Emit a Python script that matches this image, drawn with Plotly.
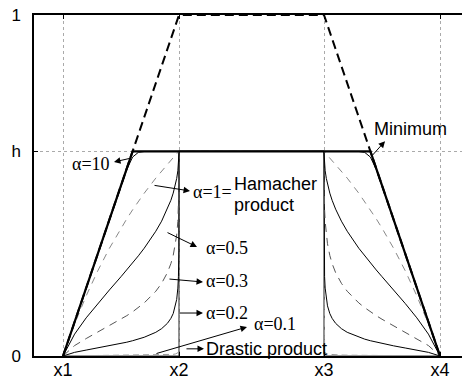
import plotly.graph_objects as go

# ---------------- data ----------------
X_LABELS = ["x1", "x2", "x3", "x4"]
X_POS = [1.0, 3.0, 5.5, 7.5]
Y_TICKS = [0, 0.6, 1]
Y_LABELS = ["0", "h", "1"]

# membership grade of the trapezoid A along its rising / falling edge
A_GRADE = [0, 0.1, 0.2, 0.3, 0.4, 0.5, 0.55, 0.6, 0.65, 0.7, 0.8, 0.85, 0.9,
           0.93, 0.95, 0.97, 0.98, 0.99, 0.995, 0.999, 0.9999, 1.0]
TRAP_A = [0, 1, 1, 0]

MINIMUM = [0, 0.1, 0.2, 0.3, 0.4, 0.5, 0.55, 0.6, 0.6, 0.6, 0.6, 0.6, 0.6,
           0.6, 0.6, 0.6, 0.6, 0.6, 0.6, 0.6, 0.6, 0.6]
ALPHA_10 = [0, 0.1, 0.2, 0.3, 0.4, 0.4996, 0.547, 0.5833, 0.5973, 0.5997, 0.6, 0.6, 0.6,
            0.6, 0.6, 0.6, 0.6, 0.6, 0.6, 0.6, 0.6, 0.6]
ALPHA_1 = [0, 0.0938, 0.1765, 0.25, 0.3158, 0.375, 0.4024, 0.4286, 0.4535, 0.4773, 0.5217,
           0.5426, 0.5625, 0.5741, 0.5816, 0.5891, 0.5927, 0.5964, 0.5982, 0.5996, 0.6, 0.6]
ALPHA_05 = [0, 0.0642, 0.1119, 0.154, 0.1936, 0.2326, 0.2524, 0.2727, 0.2938, 0.316, 0.3659,
            0.3954, 0.4307, 0.4566, 0.4776, 0.5038, 0.5207, 0.5432, 0.5595, 0.5816, 0.5941, 0.6]
ALPHA_03 = [0, 0.0306, 0.0512, 0.0698, 0.0883, 0.1078, 0.1183, 0.1295, 0.1419, 0.1556, 0.1899,
            0.2131, 0.2445, 0.271, 0.2949, 0.3292, 0.3547, 0.3943, 0.4289, 0.4905, 0.5439, 0.6]
ALPHA_02 = [0, 0.0107, 0.0174, 0.0235, 0.0298, 0.0367, 0.0405, 0.0448, 0.0495, 0.055, 0.0695,
            0.0802, 0.0958, 0.1103, 0.1245, 0.1471, 0.1659, 0.1991, 0.233, 0.3101, 0.4043, 0.6]
ALPHA_01 = [0, 0.0004, 0.0006, 0.0008, 0.001, 0.0012, 0.0013, 0.0015, 0.0016, 0.0018, 0.0024,
            0.0028, 0.0034, 0.0041, 0.0048, 0.006, 0.0071, 0.0095, 0.0124, 0.022, 0.0447, 0.6]
DRASTIC = [0, 0, 0, 0, 0, 0, 0, 0, 0, 0, 0, 0, 0, 0, 0, 0, 0, 0, 0, 0, 0, 0.6]

x1, x2, x3, x4 = X_POS
left_x = [x1 + g * (x2 - x1) for g in A_GRADE]
right_x = [x4 - g * (x4 - x3) for g in A_GRADE]


def full_curve(vals):
    return left_x + right_x[::-1], list(vals) + list(vals)[::-1]


fig = go.Figure()

styles = [
    (DRASTIC, dict(color="#333333", width=1.1)),
    (ALPHA_01, dict(color="#999999", width=1, dash="6px,4px")),
    (ALPHA_02, dict(color="black", width=1)),
    (ALPHA_03, dict(color="#555555", width=1, dash="8px,6px")),
    (ALPHA_05, dict(color="black", width=1)),
    (ALPHA_1, dict(color="#888888", width=1, dash="7px,6px")),
    (ALPHA_10, dict(color="black", width=1)),
    (MINIMUM, dict(color="black", width=2.2)),
]
for vals, ln in styles:
    xs, ys = full_curve(vals)
    fig.add_trace(go.Scatter(x=xs, y=ys, mode="lines", line=ln, hoverinfo="skip"))

fig.add_trace(go.Scatter(x=X_POS, y=TRAP_A, mode="lines",
                         line=dict(color="black", width=2, dash="9px,5px"), hoverinfo="skip"))

SERIF = "Liberation Serif, Times New Roman, serif"
SANS = "Liberation Sans, Arial, Helvetica, sans-serif"

LABELS = [
    ("Minimum", 6.345, 0.666, "left", SANS),
    ("α=10", 1.828, 0.563, "right", SERIF),
    ("α=1=", 3.224, 0.481, "left", SERIF),
    ("Hamacher", 3.931, 0.504, "left", SANS),
    ("product", 3.931, 0.443, "left", SANS),
    ("α=0.5", 3.448, 0.317, "left", SERIF),
    ("α=0.3", 3.448, 0.220, "left", SERIF),
    ("α=0.2", 3.448, 0.126, "left", SERIF),
    ("α=0.1", 4.276, 0.094, "left", SERIF),
    ("Drastic product", 3.448, 0.021, "left", SANS),
]
# (tail x, tail y, head x, head y)
ARROWS = [
    (6.310, 0.584, 6.552, 0.630),
    (2.190, 0.581, 1.879, 0.569),
    (2.552, 0.501, 3.190, 0.484),
    (2.776, 0.364, 3.310, 0.320),
    (2.810, 0.226, 3.414, 0.217),
    (2.983, 0.126, 3.414, 0.126),
    (2.586, 0.006, 4.172, 0.085),
    (3.103, 0.021, 3.431, 0.021),
]

annotations = []
for text, x, y, anc, fam in LABELS:
    annotations.append(dict(text=text, x=x, y=y, xref="x", yref="y", xanchor=anc,
                            yanchor="middle", showarrow=False,
                            font=dict(family=fam, size=18, color="black"),
                            borderpad=0))
for tx, ty, hx, hy in ARROWS:
    annotations.append(dict(text="", x=hx, y=hy, ax=tx, ay=ty, xref="x", yref="y",
                            axref="x", ayref="y", showarrow=True, arrowhead=2,
                            arrowsize=1.3, arrowwidth=1, arrowcolor="black", standoff=0))

fig.update_layout(
    width=462, height=382,
    margin=dict(l=34, r=0, t=15, b=26),
    paper_bgcolor="white", plot_bgcolor="white",
    showlegend=False,
    annotations=annotations,
    xaxis=dict(range=[0.5, 7.879], tickvals=X_POS, ticktext=X_LABELS,
               showgrid=True, gridcolor="#aaaaaa", griddash="dot", gridwidth=1,
               zeroline=False, showline=True, linecolor="black", linewidth=1.5,
               mirror="allticks", ticks="inside", ticklen=4, tickcolor="black",
               ticklabelstandoff=-3,
               tickfont=dict(family=SANS, size=18, color="black")),
    yaxis=dict(range=[0, 1], tickvals=Y_TICKS, ticktext=Y_LABELS,
               showgrid=True, gridcolor="#aaaaaa", griddash="dot", gridwidth=1,
               zeroline=False, showline=True, linecolor="black", linewidth=1.5,
               ticks="inside", ticklen=4, tickcolor="black", ticklabelstandoff=8,
               tickfont=dict(family=SANS, size=17, color="black")),
)

fig.write_html("out.html")
